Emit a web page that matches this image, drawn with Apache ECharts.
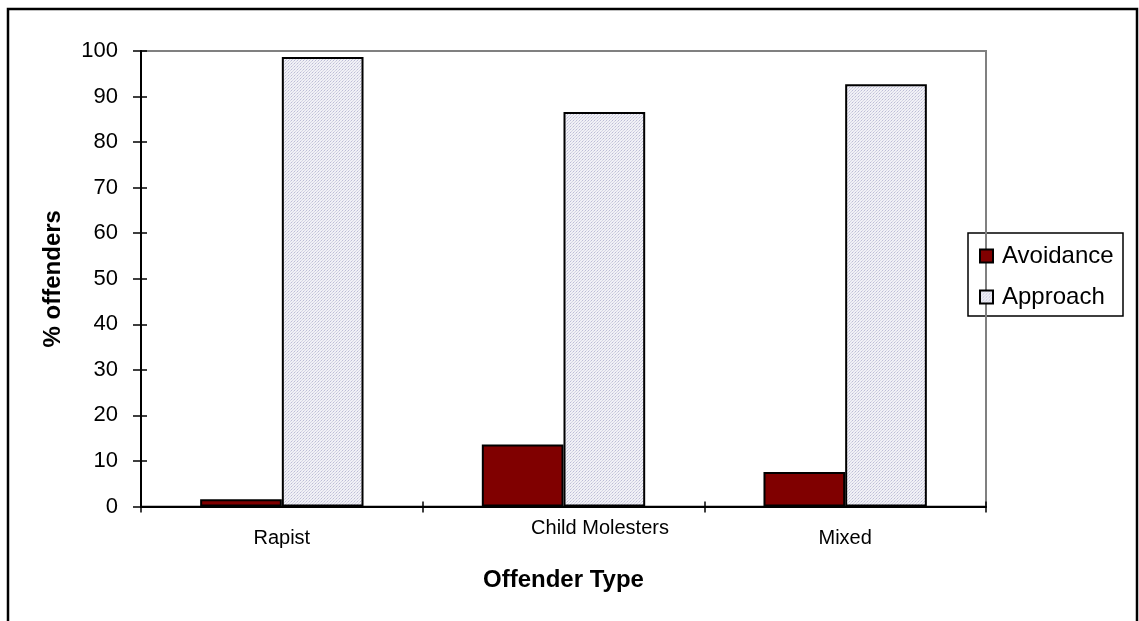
<!DOCTYPE html>
<html>
<head>
<meta charset="utf-8">
<script src="https://cdn.jsdelivr.net/npm/echarts@6/dist/echarts.min.js"></script>
<style>html,body{margin:0;padding:0;background:#fff;}#c{width:1139px;height:621px;}</style>
</head>
<body>
<div id="c"></div>
<script>
const categories = ['Rapist', 'Child Molesters', 'Mixed'];
const avoidance = [1.6, 13.6, 7.6];
const approach = [98.7, 86.6, 92.7];
const yTicks = [0, 10, 20, 30, 40, 50, 60, 70, 80, 90, 100];

const FONT = 'Arial, "Liberation Sans", sans-serif';

function makePattern() {
  const cv = document.createElement('canvas');
  cv.width = 3; cv.height = 3;
  const ctx = cv.getContext('2d');
  ctx.fillStyle = '#f1f1f6';
  ctx.fillRect(0, 0, 3, 3);
  ctx.fillStyle = '#bcbcd6';
  ctx.fillRect(0, 0, 1, 1);
  ctx.fillStyle = '#d4d4e4';
  ctx.fillRect(1, 2, 1, 1);
  ctx.fillRect(2, 1, 1, 1);
  return { image: cv, repeat: 'repeat' };
}

const chart = echarts.init(document.getElementById('c'), null, { renderer: 'canvas' });

const grid = { left: 141, right: 153, top: 51, bottom: 114.5, show: true, borderColor: '#808080', borderWidth: 2, backgroundColor: 'transparent' };

chart.setOption({
  animation: false,
  textStyle: { fontFamily: FONT },
  grid: grid,
  legend: {
    orient: 'vertical',
    left: 979,
    top: 244,
    icon: 'rect',
    itemWidth: 13,
    itemHeight: 13,
    itemGap: 17,
    padding: 0,
    textStyle: { fontFamily: FONT, fontSize: 24, color: '#000', padding: [0, 0, 0, 4] },
    data: ['Avoidance', 'Approach']
  },
  xAxis: [{
    type: 'category',
    data: categories,
    axisLine: { lineStyle: { color: '#000', width: 2 } },
    axisTick: { show: true, length: 6, lineStyle: { color: '#000', width: 1.5 } },
    axisLabel: {
      margin: 12,
      interval: 0,
      fontFamily: FONT,
      fontSize: 20,
      color: '#000',
      formatter: function (v) { return v === 'Child Molesters' ? '{c|' + v + '}' : '{n|' + v + '}'; },
      rich: {
        c: { fontFamily: FONT, fontSize: 20, color: '#000', padding: [0, 0, 0, 73] },
        n: { fontFamily: FONT, fontSize: 20, color: '#000', padding: [10, 0, 0, 0] }
      }
    },
    name: 'Offender Type',
    nameLocation: 'middle',
    nameGap: 62,
    nameTextStyle: { fontFamily: FONT, fontSize: 24, fontWeight: 'bold', color: '#000' }
  }, {
    type: 'category',
    data: categories,
    position: 'bottom',
    axisLine: { show: false },
    axisTick: { show: true, inside: true, length: 5, lineStyle: { color: '#000', width: 1.5 } },
    axisLabel: { show: false }
  }],
  yAxis: [{
    type: 'value',
    min: 0,
    max: 100,
    interval: 10,
    splitLine: { show: false },
    axisLine: { show: true, lineStyle: { color: '#000', width: 2 } },
    axisTick: { show: true, length: 8, lineStyle: { color: '#000', width: 1.5 } },
    axisLabel: { margin: 23, fontFamily: FONT, fontSize: 22, color: '#000',
      formatter: function (v) { return yTicks.indexOf(v) >= 0 ? String(v) : ''; } },
    name: '% offenders',
    nameLocation: 'middle',
    nameGap: 76,
    nameRotate: 90,
    nameTextStyle: { fontFamily: FONT, fontSize: 24, fontWeight: 'bold', color: '#000' }
  }, {
    type: 'value',
    min: 0,
    max: 100,
    interval: 10,
    position: 'left',
    splitLine: { show: false },
    axisLine: { show: false },
    axisTick: { show: true, inside: true, length: 6, lineStyle: { color: '#000', width: 1.5 } },
    axisLabel: { show: false }
  }],
  series: [{
    name: 'Avoidance',
    type: 'bar',
    data: avoidance,
    barGap: '0%',
    barCategoryGap: '42%',
    itemStyle: { color: '#800000', borderColor: '#000', borderWidth: 2 }
  }, {
    name: 'Approach',
    type: 'bar',
    data: approach,
    barGap: '0%',
    barCategoryGap: '42%',
    itemStyle: { color: makePattern(), borderColor: '#000', borderWidth: 2 }
  }],
  graphic: [{
    type: 'rect',
    shape: { x: 8, y: 9, width: 1129, height: 660 },
    style: { fill: 'none', stroke: '#000', lineWidth: 2.5 },
    silent: true, z: 100
  }, {
    type: 'rect',
    shape: { x: 968, y: 233, width: 155, height: 83 },
    style: { fill: '#fff', stroke: '#000', lineWidth: 1.5 },
    silent: true, z: -1
  }]
});
</script>
</body>
</html>
